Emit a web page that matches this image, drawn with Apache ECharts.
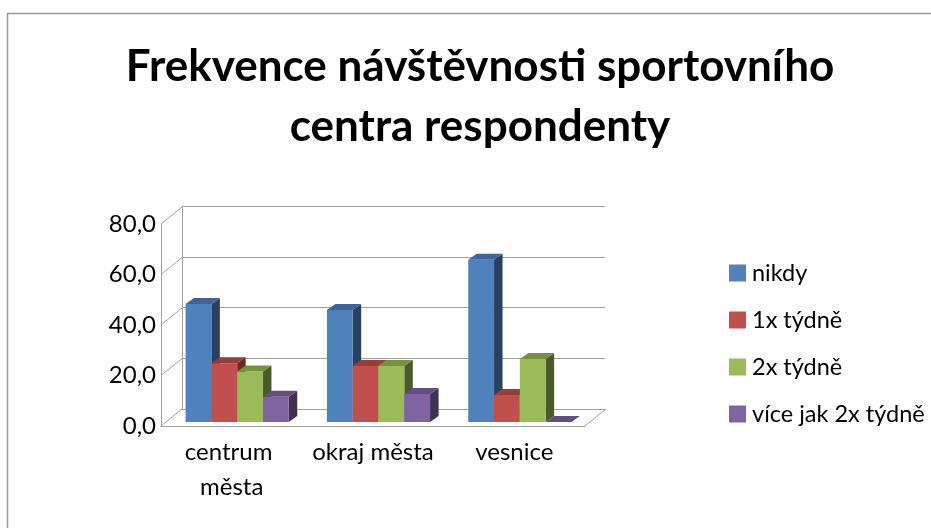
<!DOCTYPE html>
<html><head><meta charset="utf-8">
<script src="https://cdn.jsdelivr.net/npm/echarts@6/dist/echarts.min.js"></script>
<style>html,body{margin:0;padding:0;background:#fff}#c{width:931px;height:528px}</style>
</head><body><div id="c"></div>
<script>
// ---- data ----
const categories = ['centrum města', 'okraj města', 'vesnice'];
const seriesNames = ['nikdy', '1x týdně', '2x týdně', 'více jak 2x týdně'];
const nikdy = [46.7, 44.4, 64.3];
const jednouTydne = [23.3, 22.2, 10.7];
const dvakratTydne = [20.0, 22.2, 25.0];
const viceNez2x = [10.0, 11.1, 0.0];
const yTicks = [0, 20, 40, 60, 80];
const seriesValues = [nikdy, jednouTydne, dvakratTydne, viceNez2x];

// ---- styling ----
const FONT = 'Lato';
const frontColors = ['#4F81BD', '#C0504D', '#9BBB59', '#8064A2'];
const topColors = ['#3E6596', '#953F3C', '#77913F', '#634E80'];
const sideColors = ['#2A4262', '#6A2B29', '#4B5A2A', '#3E3152'];
const DEPTH = [21, -17];       // floor depth in pixels
const BAR_SHIFT = [5.5, -4];   // bar front plane offset
const BAR_DEPTH = [8.5, -6];   // bar thickness offset
const GRID_COLOR = '#A0A0A0';

function fmt(v) { return v.toFixed(1).replace('.', ','); }

const chart = echarts.init(document.getElementById('c'));

function barRender(si) {
  return function (params, api) {
    const ci = api.value(0);
    const v = api.value(1);
    const center = api.coord([ci, 0]);
    const band = api.size([1, 0])[0];
    const bw = band * 0.1825;
    const x0 = center[0] - 2 * bw + si * bw + BAR_SHIFT[0];
    const yb = center[1] + BAR_SHIFT[1];
    const yt = api.coord([ci, v])[1] + BAR_SHIFT[1];
    const dx = BAR_DEPTH[0], dy = BAR_DEPTH[1];
    return {
      type: 'group',
      children: [
        { type: 'polygon', shape: { points: [[x0 + bw, yt], [x0 + bw + dx, yt + dy], [x0 + bw + dx, yb + dy], [x0 + bw, yb]] },
          style: { fill: sideColors[si] } },
        { type: 'rect', shape: { x: x0, y: yt, width: bw, height: yb - yt },
          style: { fill: frontColors[si] } },
        { type: 'polygon', shape: { points: [[x0, yt], [x0 + dx, yt + dy], [x0 + bw + dx, yt + dy], [x0 + bw, yt]] },
          style: { fill: topColors[si] } }
      ]
    };
  };
}

const series = [];
// diagonal connectors (front axis to back wall) + floor right edge
series.push({
  type: 'custom', xAxisIndex: 1, yAxisIndex: 1, silent: true, z: 1,
  data: yTicks.map(t => [0, t]),
  renderItem: function (params, api) {
    const v = api.value(1);
    const c = api.coord([0, v]);
    const band = api.size([1, 0])[0];
    const xl = c[0] - band / 2;
    const children = [
      { type: 'line', shape: { x1: xl, y1: c[1], x2: xl + DEPTH[0], y2: c[1] + DEPTH[1] },
        style: { stroke: GRID_COLOR, lineWidth: 1 } }
    ];
    if (v === 0) {
      const xr = api.coord([categories.length - 1, 0])[0] + band / 2;
      children.push({ type: 'line', shape: { x1: xr, y1: c[1], x2: xr + DEPTH[0], y2: c[1] + DEPTH[1] },
        style: { stroke: GRID_COLOR, lineWidth: 1 } });
    }
    return { type: 'group', children: children };
  }
});
seriesValues.forEach((vals, si) => {
  series.push({
    name: seriesNames[si], type: 'custom', xAxisIndex: 1, yAxisIndex: 1, z: 3,
    itemStyle: { color: frontColors[si] },
    data: vals.map((v, ci) => [ci, v]),
    renderItem: barRender(si)
  });
});

chart.setOption({
  animation: false,
  backgroundColor: '#fff',
  textStyle: { fontFamily: FONT },
  graphic: [{ type: 'rect', shape: { x: 7.5, y: 13.5, width: 1000, height: 700 },
    style: { fill: 'none', stroke: '#999', lineWidth: 1.5 }, silent: true }],
  title: {
    text: 'Frekvence návštěvnosti sportovního\ncentra respondenty',
    left: 475, textAlign: 'center', top: 32,
    textStyle: { fontFamily: FONT, fontWeight: 'bold', fontSize: 44, lineHeight: 60, color: '#000' }
  },
  legend: {
    orient: 'vertical', left: 724, top: 256, itemWidth: 17, itemHeight: 17, itemGap: 23,
    icon: 'rect',
    data: seriesNames,
    textStyle: { fontFamily: FONT, fontSize: 23.5, lineHeight: 24, color: '#000', padding: [0, 0, 0, 1] }
  },
  grid: [
    { left: 182, right: 326, top: 206, bottom: 119 },
    { left: 161, right: 346, top: 224, bottom: 102 }
  ],
  xAxis: [
    { gridIndex: 0, type: 'category', data: categories, show: false },
    { gridIndex: 1, type: 'category', data: categories,
      axisLine: { lineStyle: { color: GRID_COLOR } }, axisTick: { show: false },
      axisLabel: { interval: 0, fontFamily: FONT, fontSize: 24, color: '#000', margin: 9, width: 138, overflow: 'break', lineHeight: 35 } }
  ],
  yAxis: [
    { gridIndex: 0, type: 'value', min: 0, max: 80, interval: 20,
      axisLine: { show: true, lineStyle: { color: GRID_COLOR } }, axisTick: { show: false },
      axisLabel: { show: false }, splitLine: { lineStyle: { color: GRID_COLOR } } },
    { gridIndex: 1, type: 'value', min: 0, max: 80, interval: 20,
      axisLine: { show: true, lineStyle: { color: GRID_COLOR } }, axisTick: { show: false },
      splitLine: { show: false },
      axisLabel: { fontFamily: FONT, fontSize: 24, color: '#000', margin: 5, formatter: fmt } }
  ],
  series: series
});
</script></body></html>
